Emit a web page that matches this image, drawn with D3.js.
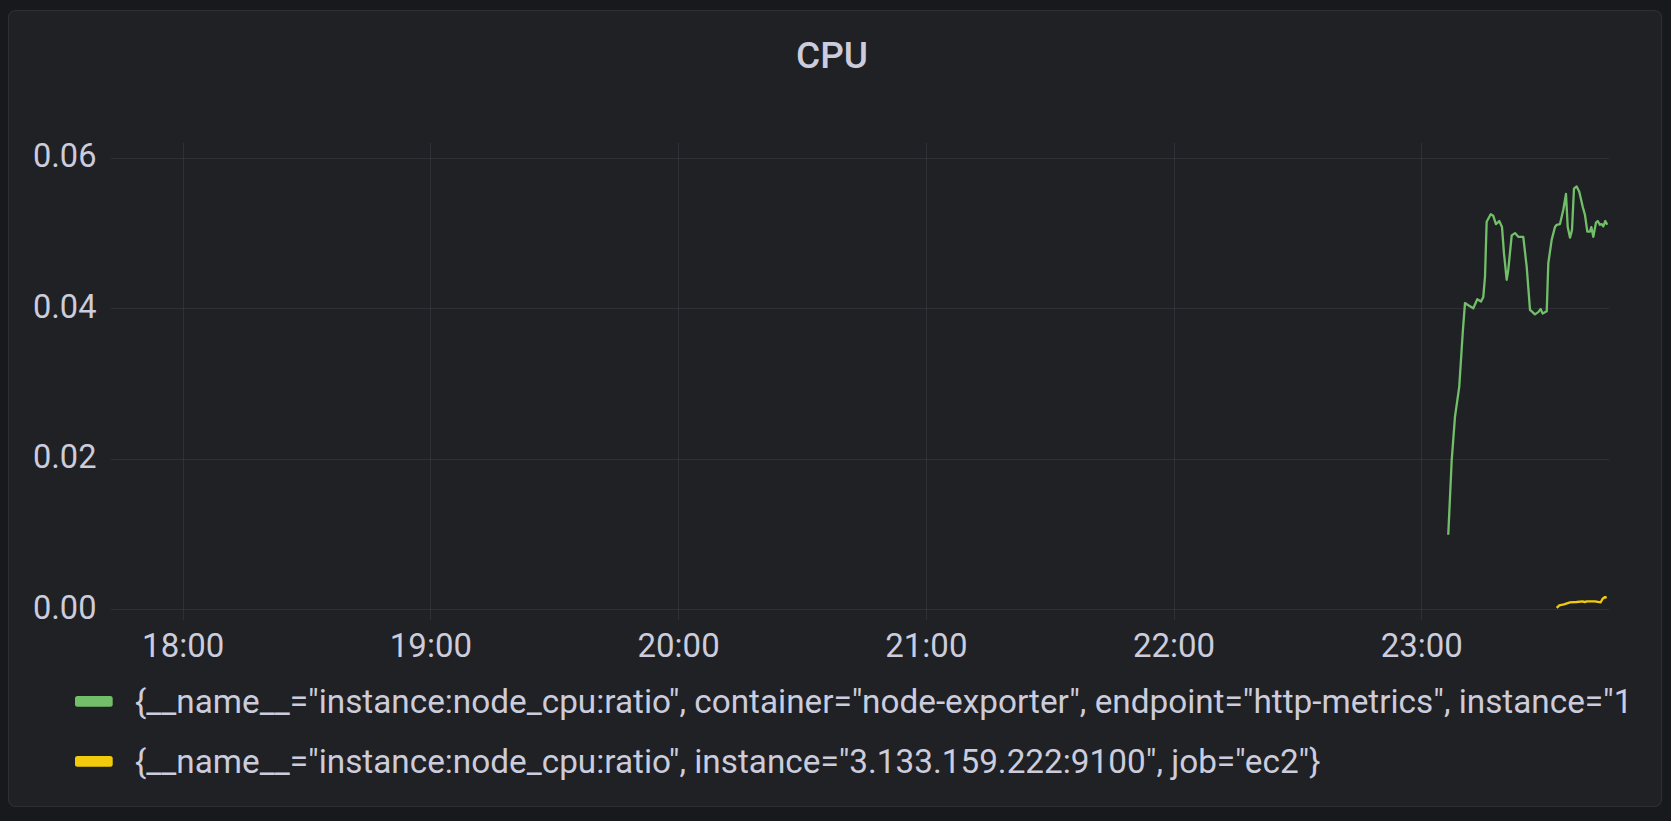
<!DOCTYPE html>
<html>
<head>
<meta charset="utf-8">
<script src="https://cdn.jsdelivr.net/npm/d3@7"></script>
<style>
  html, body { margin: 0; padding: 0; background: #18191c; }
  svg { display: block; }
</style>
</head>
<body>
<svg id="chart" width="1671" height="821"></svg>
<script>
// ---- data ----
const title = "CPU";
const timeRange = ["17:42:34", "23:45:28"];
const yTicks = [0, 0.02, 0.04, 0.06];
const yMax = 0.062;
const xTickTimes = ["18:00", "19:00", "20:00", "21:00", "22:00", "23:00"];

const seriesNames = [
  '{__name__="instance:node_cpu:ratio", container="node-exporter", endpoint="http-metrics", instance="1',
  '{__name__="instance:node_cpu:ratio", instance="3.133.159.222:9100", job="ec2"}'
];
const seriesColors = ["#73BF69", "#F2CC0C"];

const greenTimes = ["23:06:32","23:07:22","23:08:10","23:09:12","23:10:02","23:10:35","23:11:23","23:12:36","23:13:34","23:14:28","23:15:01","23:15:26","23:15:50","23:16:49","23:17:26","23:18:05","23:18:53","23:19:33","23:20:02","23:20:41","23:21:04","23:21:54","23:22:42","23:23:30","23:24:42","23:25:32","23:26:20","23:26:45","23:27:32","23:28:20","23:28:55","23:29:24","23:30:23","23:30:46","23:31:35","23:32:23","23:32:48","23:33:36","23:34:24","23:35:03","23:35:28","23:36:01","23:36:30","23:36:59","23:37:38","23:38:16","23:39:06","23:39:39","23:40:13","23:40:52","23:41:11","23:41:40","23:42:19","23:42:44","23:43:17","23:43:42","23:44:05","23:44:34","23:45:03"];
const greenValues = [0.0099,0.0198,0.0256,0.0296,0.0367,0.0407,0.0404,0.0400,0.0412,0.0409,0.0415,0.0442,0.0515,0.0525,0.0523,0.0512,0.0516,0.0508,0.0473,0.0438,0.0451,0.0497,0.0500,0.0495,0.0495,0.0455,0.0398,0.0396,0.0392,0.0395,0.0399,0.0393,0.0396,0.0460,0.0491,0.0508,0.0511,0.0512,0.0531,0.0552,0.0508,0.0494,0.0504,0.0559,0.0562,0.0555,0.0535,0.0524,0.0502,0.0502,0.0508,0.0495,0.0514,0.0516,0.0511,0.0512,0.0509,0.0516,0.0511];

const yellowTimes = ["23:32:48","23:33:26","23:34:34","23:36:01","23:37:38","23:39:06","23:39:35","23:40:04","23:42:04","23:43:27","23:43:56","23:44:30","23:44:55"];
const yellowValues = [0.0002,0.00053,0.00066,0.00093,0.00097,0.00106,0.00095,0.00106,0.00106,0.00093,0.00141,0.00163,0.00154];

// ---- helpers ----
const parseT = s => {
  const p = s.split(":").map(Number);
  return new Date(2021, 0, 1, p[0], p[1], p[2] || 0);
};

const svg = d3.select("#chart");
const W = 1671, H = 821;
const textColor = "#ccccdc";
const gridColor = "rgba(204,204,220,0.09)";

// panel
svg.append("rect").attr("x", 0).attr("y", 0).attr("width", W).attr("height", H).attr("fill", "#18191c");
svg.append("rect")
  .attr("x", 8.5).attr("y", 10.5).attr("width", 1653).attr("height", 796)
  .attr("rx", 7).attr("ry", 7)
  .attr("fill", "#1f2125").attr("stroke", "#2c2f34").attr("stroke-width", 1.2);

svg.append("text").attr("x", 832).attr("y", 68)
  .attr("text-anchor", "middle")
  .attr("font-family", "Roboto").attr("font-weight", 500).attr("font-size", 37)
  .attr("fill", textColor).text(title);

// scales
const x = d3.scaleTime().domain(timeRange.map(parseT)).range([110.7, 1609]);
const y = d3.scaleLinear().domain([0, yMax]).range([609.3, 142.8]);

// grid: horizontal
const gH = svg.append("g");
gH.selectAll("line").data(yTicks).join("line")
  .attr("x1", 110.7).attr("x2", 1609)
  .attr("y1", d => Math.round(y(d)) + 0.5).attr("y2", d => Math.round(y(d)) + 0.5)
  .attr("stroke", gridColor).attr("stroke-width", 1);

// y labels via axis
const yAxis = d3.axisLeft(y).tickValues(yTicks).tickFormat(d3.format(".2f")).tickSize(0).tickPadding(0);
const gy = svg.append("g").attr("transform", "translate(96.5,0)").call(yAxis);
gy.select(".domain").remove();
gy.selectAll("text").attr("font-family", "Roboto").attr("font-size", 32.6).attr("fill", textColor)
  .attr("dy", "0.28em");

// grid: vertical
const xTicks = xTickTimes.map(parseT);
const gV = svg.append("g");
gV.selectAll("line").data(xTicks).join("line")
  .attr("x1", d => Math.round(x(d)) + 0.5).attr("x2", d => Math.round(x(d)) + 0.5)
  .attr("y1", 142.8).attr("y2", 620)
  .attr("stroke", gridColor).attr("stroke-width", 1);

const xAxis = d3.axisBottom(x).tickValues(xTicks).tickFormat(d3.timeFormat("%H:%M")).tickSize(0).tickPadding(0);
const gx = svg.append("g").attr("transform", "translate(0,645)").call(xAxis);
gx.select(".domain").remove();
gx.selectAll("text").attr("font-family", "Roboto").attr("font-size", 33).attr("fill", textColor)
  .attr("dy", "0.36em");

// lines
const line = d3.line().x(d => x(d[0])).y(d => y(d[1]));
const green = greenTimes.map((t, i) => [parseT(t), greenValues[i]]);
const yellow = yellowTimes.map((t, i) => [parseT(t), yellowValues[i]]);
[green, yellow].forEach((data, i) => {
  svg.append("path").datum(data)
    .attr("d", line).attr("fill", "none")
    .attr("stroke", seriesColors[i]).attr("stroke-width", 2.3)
    .attr("stroke-linejoin", "round").attr("stroke-linecap", "butt");
});

// legend
const leg = svg.append("g");
seriesNames.forEach((name, i) => {
  const cy = 701.3 + i * 60;
  leg.append("rect").attr("x", 75).attr("y", cy - 5.3).attr("width", 37.7).attr("height", 10.7)
    .attr("rx", 2.5).attr("fill", seriesColors[i]);
  leg.append("text").attr("x", 135).attr("y", cy).attr("dy", "0.36em")
    .attr("font-family", "Roboto").attr("font-size", 33.3).attr("fill", textColor)
    .text(name);
});
</script>
</body>
</html>
